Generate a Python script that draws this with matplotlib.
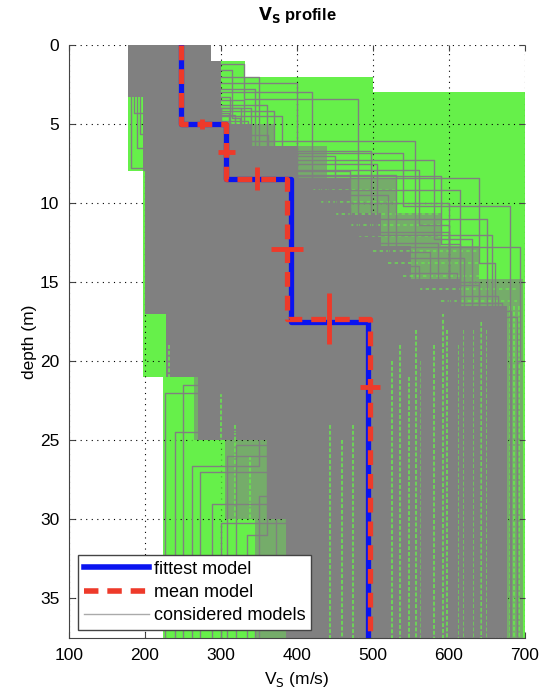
import numpy as np
import matplotlib
matplotlib.use('Agg')
import matplotlib.pyplot as plt
from matplotlib.lines import Line2D

plt.rcParams['font.family'] = ['Liberation Sans', 'DejaVu Sans']

Z_BOTTOM = 37.5

# search space (green), step bounds per depth interval
green_depth = [0, 1, 2, 3, 8, 21]
green_min = [178, 178, 178, 178, 198, 224]
green_max = [287, 332, 500, 700, 700, 700]

# loose fringe of considered models (mixed gray / green)
fringe_depth = [0, 1, 3.3, 5, 6.4, 8.4, 10.6, 12.7, 14.8, 17, 21, 25, 30]
fringe_min = [178, 178, 197, 197, 200, 200, 200, 200, 200, 228, 265, 305, 345]
fringe_max = [287, 300, 300, 370, 440, 530, 590, 640, 697, 697, 697, 697, 697]

# dense cloud of considered models (gray core)
core_depth = [0, 1, 3.3, 5, 6.4, 8, 8.4, 10.6, 12.7, 14.8, 16.5, 17, 21, 25, 30]
core_min = [178, 178, 197, 197, 197, 200, 200, 200, 200, 200, 200, 228, 270, 360, 385]
core_max = [287, 300, 300, 340, 400, 400, 470, 510, 550, 614, 676, 676, 676, 676, 676]

# single considered models lying outside the dense cloud: Vs of 4 layers, 3 interfaces
outlier_vs = [
    [250, 400, 410, 500], [240, 330, 480, 520], [260, 300, 555, 560],
    [250, 340, 657, 660], [250, 310, 693, 690], [240, 420, 600, 640],
    [250, 360, 470, 530], [260, 380, 520, 620], [240, 350, 450, 585],
    [250, 300, 440, 650], [245, 330, 505, 600], [250, 370, 540, 680],
    [250, 310, 400, 240], [245, 305, 380, 272], [250, 300, 370, 288],
    [250, 310, 390, 308], [250, 300, 360, 334], [240, 290, 350, 226],
    [250, 320, 340, 250], [245, 300, 395, 350], [182, 300, 390, 480],
    [190, 320, 400, 500], [250, 300, 420, 682], [250, 310, 430, 690],
    [250, 315, 325, 470], [245, 298, 362, 455], [250, 318, 445, 610],
    [240, 305, 390, 640], [255, 345, 580, 630], [250, 326, 498, 560],
    [245, 312, 530, 575], [250, 300, 470, 665], [250, 335, 615, 670],
    [250, 290, 378, 320], [245, 300, 350, 262], [250, 310, 385, 300],
    [250, 300, 372, 345], [186, 310, 392, 470], [193, 300, 380, 495],
    [250, 300, 560, 600], [250, 320, 590, 615], [245, 310, 640, 660],
]
outlier_z = [
    [2.4, 9, 17], [1.2, 3.4, 16], [5, 6.1, 16],
    [4, 12, 18], [5, 12.8, 20], [3, 10, 15],
    [3.8, 8, 14], [4.5, 9.5, 13.5], [2, 7, 12.5],
    [5, 9, 11], [3.5, 7.5, 11.8], [4.2, 6.8, 10.2],
    [5, 9, 24.5], [5, 8, 27], [4, 9, 29],
    [5, 10, 26], [5, 8, 31], [5, 9, 22],
    [6, 10, 21.5], [5, 9, 28.5], [7.8, 10, 18],
    [6.5, 9, 17], [5, 8.5, 16.8], [5, 8.5, 17.2],
    [1.6, 4.6, 12], [3.1, 5.7, 13], [4.4, 8.8, 14.4],
    [5, 9.8, 15.2], [2.8, 7.3, 12.3], [4, 6.7, 14],
    [3.3, 8.2, 13.1], [5, 10.3, 15.9], [4.8, 9.2, 16.3],
    [5, 8.6, 25.3], [5, 9.1, 26.6], [5, 8.8, 30.2],
    [5, 9.4, 32.5], [4.3, 9.6, 17.8], [5.6, 8.9, 18.4],
    [5, 7.9, 11.4], [5, 8.3, 12.6], [5, 8.4, 13.8],
]

# gaps in the dense cloud where the green shows through
gap_vs = [232, 245, 262, 300, 318, 338, 443, 459, 474, 525, 535, 548, 557, 562,
          580, 592, 597, 612, 620, 632, 642, 650, 680, 686, 692]
gap_top = [19, 21, 23, 22, 24, 26, 24, 25, 24, 20, 19, 21, 18, 20,
           19, 17, 18, 19, 18, 18, 17.5, 18, 16.5, 16.5, 16.5]

# horizontal gaps in the upper fringe
hgap_z = [9.2, 9.9, 10.7, 11.4, 12.1, 13.0, 13.8, 14.6, 15.4, 16.2]
hgap_x0 = [420, 430, 450, 470, 480, 500, 520, 540, 560, 590]
hgap_x1 = [540, 580, 600, 640, 650, 670, 690, 690, 690, 690]

# fittest and mean models
fit_vs = [247, 307, 392, 493]
fit_z = [5.0, 8.45, 17.5]
mean_vs = [247, 307, 387, 496]
mean_z = [5.0, 8.45, 17.3]

# error bars: Vs error at layer centres, depth error at interfaces
vs_err_x = [307, 387, 496]
vs_err_y = [6.75, 12.9, 21.6]
vs_err = [11, 21, 13]
z_err_x = [275, 347, 442]
z_err_y = [5.0, 8.45, 17.3]
z_err = [0.3, 0.75, 1.6]


def profile(vs, z):
    xs, ys = [], []
    tops = [0] + list(z)
    bots = list(z) + [Z_BOTTOM]
    for v, t, b in zip(vs, tops, bots):
        xs += [v, v]
        ys += [t, b]
    return xs, ys


def stairs(depth, vals):
    d = list(depth) + [Z_BOTTOM]
    v = list(vals) + [vals[-1]]
    return np.array(d), np.array(v)


fig = plt.figure(figsize=(5.49, 6.95), dpi=100)
ax = fig.add_axes([0.1257, 0.082, 0.8306, 0.8533])

green = '#66F04A'
gray = '#808080'

d, lo = stairs(green_depth, green_min)
d, hi = stairs(green_depth, green_max)
ax.fill_betweenx(d, lo, hi, step='post', color=green, lw=0, zorder=1)

d, lo = stairs(fringe_depth, fringe_min)
d, hi = stairs(fringe_depth, fringe_max)
ax.fill_betweenx(d, lo, hi, step='post', color=gray, alpha=0.6, lw=0, zorder=1.5)

d, lo = stairs(core_depth, core_min)
d, hi = stairs(core_depth, core_max)
ax.fill_betweenx(d, lo, hi, step='post', color=gray, lw=0, zorder=2)

ax.vlines(gap_vs, gap_top, Z_BOTTOM, color=green, lw=1.4, alpha=0.75,
          linestyles=[(0, (2, 1))], zorder=3)
ax.hlines(hgap_z, hgap_x0, hgap_x1, color=green, lw=1.2, alpha=0.7,
          linestyles=[(0, (2, 2))], zorder=3)

for vs, z in zip(outlier_vs, outlier_z):
    xs, ys = profile(vs, z)
    ax.plot(xs, ys, color=gray, lw=1.0, zorder=4)

xs, ys = profile(fit_vs, fit_z)
ax.plot(xs, ys, color='#0A14F0', lw=3.8, zorder=5)
xs, ys = profile(mean_vs, mean_z)
ax.plot(xs, ys, color='#EE3A2A', lw=3.8, dashes=(2.8, 1.7), zorder=6)

ax.errorbar(vs_err_x, vs_err_y, xerr=vs_err, fmt='none', ecolor='#EE3A2A',
            elinewidth=3.5, capsize=0, zorder=7)
ax.errorbar(z_err_x, z_err_y, yerr=z_err, fmt='none', ecolor='#EE3A2A',
            elinewidth=3.5, capsize=0, zorder=7)

ax.set_xlim(100, 700)
ax.set_ylim(Z_BOTTOM, 0)
ax.set_xticks(range(100, 701, 100))
ax.set_yticks(range(0, 36, 5))
ax.grid(True, color='black', ls=(0, (1, 4)), lw=0.8)
for g in ax.get_xgridlines() + ax.get_ygridlines():
    g.set_zorder(0.5)
ax.spines['top'].set_visible(False)
ax.spines['right'].set_visible(False)
ax.spines['left'].set_color('#444444')
ax.spines['bottom'].set_color('#444444')
ax.tick_params(direction='in', top=True, right=True, labelsize=12.5, length=4,
               color='#444444', pad=7)

ax.set_title(r'$\mathbf{V_S}$ profile', fontsize=12, fontweight='bold', pad=18)
ax.set_xlabel(r'V$_\mathrm{S}$ (m/s)', fontsize=12.5, labelpad=5)
ax.set_ylabel('depth (m)', fontsize=12.5, labelpad=2)

handles = [Line2D([], [], color='#0A14F0', lw=4),
           Line2D([], [], color='#EE3A2A', lw=4, dashes=(2.6, 1.6)),
           Line2D([], [], color='#AAAAAA', lw=1)]
leg = ax.legend(handles, ['fittest model', 'mean model', 'considered models'],
                loc='lower left', bbox_to_anchor=(0.012, 0.008), fontsize=13,
                fancybox=False, framealpha=1, edgecolor='#444444',
                borderpad=0.3, labelspacing=0.35, handlelength=3.6,
                handletextpad=0.3, borderaxespad=0.2)
leg.set_zorder(10)

fig.savefig('out.png', dpi=100)
